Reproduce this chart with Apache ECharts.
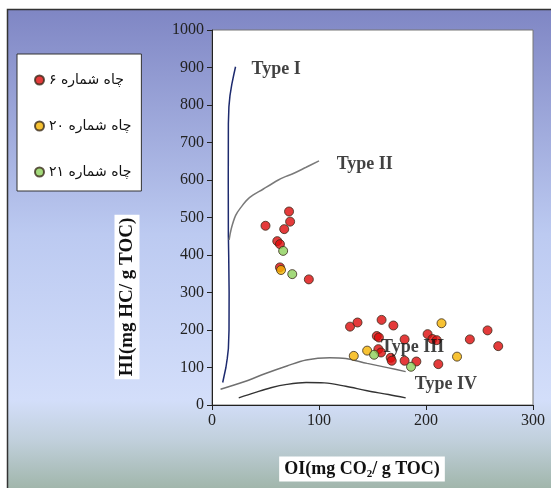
<!DOCTYPE html>
<html>
<head>
<meta charset="utf-8">
<script src="https://cdn.jsdelivr.net/npm/echarts@6/dist/echarts.min.js"></script>
<style>
html,body{margin:0;padding:0;background:#fff;}
#chart{width:551px;height:488px;}
</style>
</head>
<body>
<div id="chart"></div>
<script>
// ---- data ----
var seriesNames = ['چاه شماره ۶', 'چاه شماره ۲۰', 'چاه شماره ۲۱'];
var well6 = [[50,478],[72,516],[73,489],[67.5,469],[61,437],[63.5,429],[63.5,367],[90.5,335],
  [129,209],[136,220],[158.5,227],[169.5,212],[154,184],[156,180],[180,175],[201.5,189],
  [206,176],[210,173],[241,175],[257.5,199],[267.5,157],[155.5,149],[158,140],[167,126],
  [168,118],[180,118],[191,116],[211.5,109]];
var well20 = [[64.5,360],[132.5,131],[145,145],[214.5,218],[229,129]];
var well21 = [[66.5,411],[75,349],[151.5,134],[186,102]];
var typeI = [[10,60],[11.5,80],[13,100],[14.3,125],[15.3,150],[15.9,200],[16,300],[15.6,400],[15.3,450],[15.2,600],[15.3,750],[15.8,795],[16.8,825],[18.5,855],[20.3,880],[22,902]];
var typeII = [[16,440],[18,470],[22,505],[27,527],[35,553],[48,576],[62,600],[67,607],[75,616],[88,634],[100,651]];
var typeIII = [[8,42],[30,62],[50,84],[70,104],[88,120],[110,126],[125,124],[145,111],[165,99],[181,89]];
var typeIV = [[25,19],[40,33],[55,46],[70,55],[88,60],[105,59],[125,50],[145,38],[165,28],[181,19]];
var typeLabels = [[37,896,'Type I'],[116.5,643,'Type II'],[158,153,'Type III'],[189.5,55,'Type IV']];
var xTicks = {min:0, max:300, interval:100};
var yTicks = {min:0, max:1000, interval:100};

var chart = echarts.init(document.getElementById('chart'));
var serif = '"Liberation Serif", "DejaVu Serif", serif';

function lineSeries(name, data, color, width, smooth) {
  return {name: name, type: 'line', data: data, symbol: 'none', smooth: smooth,
    lineStyle: {color: color, width: width}, silent: true, z: 2};
}
function scatterSeries(name, data, color) {
  return {name: name, type: 'scatter', data: data, symbol: 'circle', symbolSize: 9,
    itemStyle: {color: color, borderColor: '#3a2a1a', borderWidth: 1}, z: 3};
}
function plain(v) { return String(v); }

chart.setOption({
  animation: false,
  graphic: [
    {type: 'rect', z: -10, shape: {x: 7.5, y: 9.5, width: 560, height: 500},
      style: {fill: new echarts.graphic.LinearGradient(0, 0, 0, 1, [
        {offset: 0, color: '#7f86c4'},
        {offset: 0.45, color: '#bccaf1'},
        {offset: 0.78, color: '#d3defa'},
        {offset: 0.86, color: '#c1d0dc'},
        {offset: 1, color: '#92aa95'}
      ]), stroke: '#333', lineWidth: 1.5}},
    {type: 'text', z: 10, x: 127, y: 297, rotation: Math.PI / 2,
      style: {text: 'HI(mg HC/ g TOC)', font: 'bold 19px ' + serif, fill: '#111',
        align: 'center', verticalAlign: 'middle', backgroundColor: '#fff', padding: [4, 3, 2, 3]}},
    {type: 'text', z: 10, x: 362, y: 469,
      style: {text: '{a|OI(mg CO}{s|2}{a|/ g TOC)}', align: 'center', verticalAlign: 'middle',
        backgroundColor: '#fff', padding: [3, 5, 2, 5],
        rich: {a: {font: 'bold 18px ' + serif, fill: '#111'},
               s: {font: 'bold 11px ' + serif, fill: '#111', padding: [9, 0, 0, 0]}}}}
  ],
  legend: {
    data: seriesNames, orient: 'vertical', left: 17, top: 54,
    backgroundColor: '#fff', borderColor: '#333', borderWidth: 1,
    padding: [19, 10, 12, 17], itemGap: 32, itemWidth: 9, itemHeight: 9, icon: 'circle',
    textStyle: {fontFamily: '"DejaVu Sans", "Noto Sans", sans-serif', fontSize: 14, color: '#111'}
  },
  grid: {left: 212, right: 18, top: 30, bottom: 83, show: true, backgroundColor: '#fff',
    borderColor: '#777', borderWidth: 1},
  xAxis: {type: 'value', min: xTicks.min, max: xTicks.max, interval: xTicks.interval,
    splitLine: {show: false},
    axisLine: {show: true, onZero: false, lineStyle: {color: '#222', width: 1}},
    axisTick: {show: true, length: 5, lineStyle: {color: '#222'}},
    axisLabel: {fontFamily: serif, fontSize: 16, color: '#222', margin: 8, formatter: plain}},
  yAxis: {type: 'value', min: yTicks.min, max: yTicks.max, interval: yTicks.interval,
    splitLine: {show: false},
    axisLine: {show: true, onZero: false, lineStyle: {color: '#222', width: 1}},
    axisTick: {show: true, length: 5, lineStyle: {color: '#222'}},
    axisLabel: {fontFamily: serif, fontSize: 16, color: '#222', margin: 8, formatter: plain}},
  series: [
    lineSeries('typeI', typeI, '#1d2a6e', 1.5, false),
    lineSeries('typeII', typeII, '#7a7a7a', 1.5, 0.35),
    lineSeries('typeIII', typeIII, '#707070', 1.5, 0.35),
    lineSeries('typeIV', typeIV, '#333333', 1.3, 0.35),
    scatterSeries(seriesNames[0], well6, '#dd0a0a'),
    scatterSeries(seriesNames[1], well20, '#f5b300'),
    scatterSeries(seriesNames[2], well21, '#8ccf5a'),
    {name: 'labels', type: 'scatter', data: typeLabels, symbolSize: 0, silent: true, z: 5,
      label: {show: true, position: 'right', distance: 0, formatter: function (p) { return p.data[2]; },
        fontFamily: serif, fontWeight: 'bold', fontSize: 18, color: '#111'}}
  ]
});
</script>
</body>
</html>
